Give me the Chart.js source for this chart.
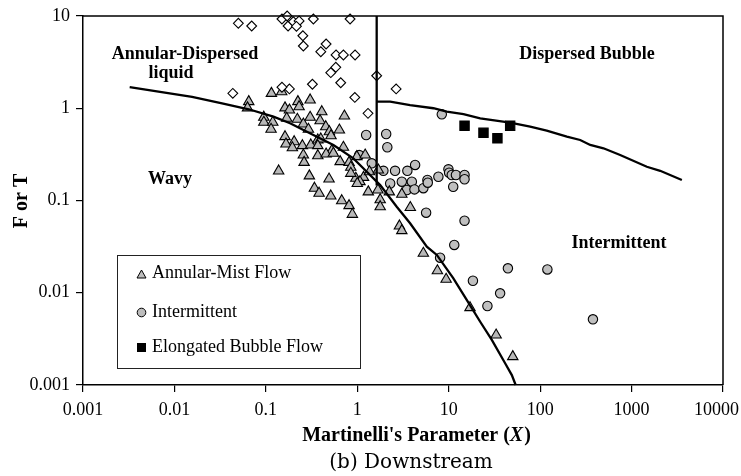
<!DOCTYPE html>
<html>
<head>
<meta charset="utf-8">
<script src="https://cdn.jsdelivr.net/npm/chart.js@4.4.1/dist/chart.umd.min.js"></script>
<style>
  body { margin: 0; background: #fff; }
  canvas { display: block; }
</style>
</head>
<body>
<canvas id="flowMap" width="741" height="476"></canvas>
<script>
const xTicks = [0.001, 0.01, 0.1, 1, 10, 100, 1000, 10000];
const yTicks = [0.001, 0.01, 0.1, 1, 10];

// annular-mist flow observations
const mistX = [0.065, 0.063, 0.095, 0.095, 0.119, 0.114, 0.115, 0.138, 0.149, 0.224,
  0.305, 0.231, 0.162, 0.181, 0.409, 0.723, 0.169, 0.221, 0.305, 0.392,
  0.257, 0.292, 0.452, 0.495, 0.637, 0.516, 0.162, 0.204, 0.166, 0.195,
  0.251, 0.310, 0.370, 0.399, 0.370, 0.705, 0.526, 0.257, 0.370, 0.456,
  0.548, 0.262, 0.649, 0.813, 0.989, 1.22, 0.849, 0.299, 0.491, 0.964,
  1.17, 1.07, 1.36, 1.70, 1.32, 1.68, 2.24, 0.340, 0.382, 0.513,
  0.676, 0.813, 0.883, 1.78, 1.78, 3.07, 3.8, 2.89, 3.07, 5.28,
  7.52, 9.37, 17.1, 33.0, 50.2, 1.00, 0.849];
const mistY = [1.18, 1.01, 0.80, 0.705, 0.705, 0.592, 1.45, 0.209, 1.51, 1.18,
  1.23, 1.04, 1.01, 0.957, 0.918, 0.824, 0.778, 0.759, 0.798, 0.733,
  0.675, 0.592, 0.631, 0.557, 0.581, 0.504, 0.492, 0.434, 0.409, 0.373,
  0.393, 0.40, 0.453, 0.465, 0.393, 0.378, 0.347, 0.311, 0.306, 0.319,
  0.325, 0.259, 0.264, 0.259, 0.299, 0.311, 0.229, 0.185, 0.171, 0.174,
  0.178, 0.160, 0.205, 0.214, 0.124, 0.130, 0.124, 0.136, 0.120, 0.112,
  0.0995, 0.0879, 0.0708, 0.102, 0.0857, 0.117, 0.084, 0.053, 0.0471, 0.0268,
  0.0173, 0.0140, 0.00689, 0.00348, 0.00203, 0.153, 0.197];

// intermittent observations
const intermX = [8.40, 1.25, 2.07, 2.13, 1.05, 1.44, 1.93, 2.59, 3.53, 4.29,
  2.29, 3.07, 3.95, 3.48, 4.22, 5.28, 5.85, 5.90, 7.71, 9.93,
  10.1, 10.8, 12.0, 14.9, 14.9, 11.2, 5.66, 14.9, 11.5, 8.05,
  44.4, 120, 18.4, 36.5, 26.5, 378];
const intermY = [0.859, 0.513, 0.526, 0.378, 0.311, 0.253, 0.210, 0.210, 0.210, 0.243,
  0.153, 0.160, 0.160, 0.130, 0.132, 0.136, 0.167, 0.156, 0.181, 0.218,
  0.200, 0.189, 0.189, 0.189, 0.170, 0.141, 0.0738, 0.0604, 0.033, 0.024,
  0.0184, 0.0179, 0.0135, 0.00986, 0.00718, 0.00515];

// elongated bubble flow observations
const bubbleX = [14.9, 24.0, 34.1, 47.0];
const bubbleY = [0.647, 0.543, 0.472, 0.647];

// annular-dispersed observations (open diamonds, not in legend)
const dispX = [0.050, 0.070, 0.150, 0.171, 0.175, 0.200, 0.231, 0.216, 0.331, 0.834,
  0.254, 0.257, 0.456, 0.399, 0.586, 0.705, 0.946, 0.582, 0.513, 0.323,
  0.659, 0.181, 0.150, 0.0435, 0.940, 1.63, 2.66, 1.31];
const dispY = [8.34, 7.79, 9.28, 10.0, 7.79, 8.67, 8.83, 7.73, 9.28, 9.28,
  6.11, 4.73, 4.97, 4.10, 3.78, 3.78, 3.78, 2.78, 2.43, 1.82,
  1.89, 1.62, 1.69, 1.45, 1.31, 2.25, 1.62, 0.88];

// Taitel-Dukler transition boundaries
const annularBoundX = [0.00324, 0.0156, 0.0332, 0.065, 0.121, 0.184, 0.331, 0.548, 0.906, 1.27,
  1.78, 2.70, 3.78, 5.76, 7.41, 11.2, 15.8, 22.1, 29.6, 41.4, 49.0, 54];
const annularBoundY = [1.69, 1.33, 1.13, 0.975, 0.81, 0.687, 0.513, 0.40, 0.286, 0.205,
  0.147, 0.0857, 0.0566, 0.0316, 0.0257, 0.0144, 0.00834, 0.00485, 0.00308, 0.00172, 0.00128, 0.001];
const verticalX = [1.63, 1.63];
const verticalY = [10, 0.145];
const bubbleBoundX = [1.63, 2.29, 3.78, 6.8, 9.53, 14.5, 22.1, 47.0, 77.8, 118,
  196, 274, 353, 493, 750, 1469, 2055, 3548];
const bubbleBoundY = [1.18, 1.18, 1.08, 1.0, 0.918, 0.866, 0.778, 0.697, 0.631, 0.571,
  0.492, 0.453, 0.40, 0.368, 0.311, 0.232, 0.21, 0.167];

const legendNames = ["Annular-Mist Flow", "Intermittent", "Elongated Bubble Flow"];

const serif = "'Liberation Serif', 'Times New Roman', serif";

function points(xs, ys){
  return xs.map((x, i) => ({x: x, y: ys[i]}));
}

function markers(label, xs, ys, style, radius, fill){
  return {
    label: label,
    data: points(xs, ys),
    pointStyle: style,
    pointRadius: radius,
    backgroundColor: fill,
    borderColor: "#000",
    borderWidth: 1.1,
    clip: false,
    order: 2
  };
}

function boundary(xs, ys){
  return {
    data: points(xs, ys),
    showLine: true,
    pointRadius: 0,
    borderColor: "#000",
    borderWidth: 2.3,
    fill: false,
    clip: false,
    order: 1
  };
}

const decorations = {
  id: "decorations",
  afterDraw(chart){
    const ctx = chart.ctx;
    const a = chart.chartArea;
    ctx.save();

    // close the frame on top and right
    ctx.strokeStyle = "#000";
    ctx.lineWidth = 1.5;
    ctx.beginPath();
    ctx.moveTo(a.left, a.top);
    ctx.lineTo(a.right, a.top);
    ctx.lineTo(a.right, a.bottom);
    ctx.stroke();

    // x tick labels, the last one pulled in so it stays on the canvas
    const xs = chart.scales.x;
    ctx.fillStyle = "#000";
    ctx.textBaseline = "middle";
    ctx.textAlign = "center";
    ctx.font = "18px " + serif;
    for (const v of xTicks){
      const text = String(v);
      const w = ctx.measureText(text).width;
      const px = Math.min(xs.getPixelForValue(v), chart.width - 2 - w / 2);
      ctx.fillText(text, px, 410);
    }

    // region names
    ctx.font = "bold 18px " + serif;
    ctx.fillText("Annular-Dispersed", 185, 54);
    ctx.fillText("liquid", 171, 73);
    ctx.fillText("Wavy", 170, 179);
    ctx.fillText("Dispersed Bubble", 587, 54);
    ctx.fillText("Intermittent", 619, 243);

    // legend box
    ctx.fillStyle = "#fff";
    ctx.fillRect(117, 255, 243, 113);
    ctx.strokeStyle = "#222";
    ctx.lineWidth = 1;
    ctx.strokeRect(117.5, 255.5, 243, 113);

    ctx.fillStyle = "#bdbdbd";
    ctx.strokeStyle = "#000";
    ctx.beginPath();
    ctx.moveTo(141.5, 270);
    ctx.lineTo(146, 278);
    ctx.lineTo(137, 278);
    ctx.closePath();
    ctx.fill();
    ctx.stroke();

    ctx.beginPath();
    ctx.arc(141.5, 312.5, 4.3, 0, Math.PI * 2);
    ctx.fill();
    ctx.stroke();

    ctx.fillStyle = "#000";
    ctx.fillRect(137, 343, 9, 9);

    ctx.textAlign = "left";
    ctx.font = "18px " + serif;
    ctx.fillText(legendNames[0], 152, 273);
    ctx.fillText(legendNames[1], 152, 312);
    ctx.fillText(legendNames[2], 152, 347);

    // axis titles
    ctx.font = "bold 20px " + serif;
    const left = "Martinelli's Parameter (";
    const wLeft = ctx.measureText(left).width;
    ctx.font = "bold italic 20px " + serif;
    const wX = ctx.measureText("X").width;
    ctx.font = "bold 20px " + serif;
    const wRight = ctx.measureText(")").width;
    let tx = 416 - (wLeft + wX + wRight) / 2;
    ctx.fillText(left, tx, 436);
    tx += wLeft;
    ctx.font = "bold italic 20px " + serif;
    ctx.fillText("X", tx, 436);
    tx += wX + 1;
    ctx.font = "bold 20px " + serif;
    ctx.fillText(")", tx, 436);

    ctx.save();
    ctx.translate(22, 201);
    ctx.rotate(-Math.PI / 2);
    ctx.textAlign = "center";
    ctx.fillText("F or T", 0, 0);
    ctx.restore();

    ctx.textAlign = "center";
    ctx.font = "20px 'DejaVu Serif', serif";
    ctx.fillText("(b) Downstream", 411, 463);

    ctx.restore();
  }
};

new Chart("flowMap", {
  type: "scatter",
  data: {
    datasets: [
      boundary(annularBoundX, annularBoundY),
      boundary(verticalX, verticalY),
      boundary(bubbleBoundX, bubbleBoundY),
      markers("dispersed", dispX, dispY, "rectRot", 4.9, "#fff"),
      markers(legendNames[0], mistX, mistY, "triangle", 6, "#b8b8b8"),
      markers(legendNames[1], intermX, intermY, "circle", 4.7, "#bfbfbf"),
      markers(legendNames[2], bubbleX, bubbleY, "rect", 6.6, "#000")
    ]
  },
  options: {
    responsive: false,
    animation: false,
    events: [],
    layout: {padding: {top: 16, right: 18, left: 0, bottom: 0}},
    plugins: {legend: {display: false}, tooltip: {enabled: false}},
    scales: {
      x: {
        type: "logarithmic",
        min: 0.001,
        max: 10000,
        afterBuildTicks: (s) => { s.ticks = xTicks.map(v => ({value: v})); },
        afterFit: (s) => { s.height = 91; s.paddingLeft = 0; s.paddingRight = 0; },
        ticks: {display: false},
        grid: {drawOnChartArea: false, tickLength: 7, color: "#000", lineWidth: 1.2},
        border: {color: "#000", width: 1.5}
      },
      y: {
        type: "logarithmic",
        min: 0.001,
        max: 10,
        afterBuildTicks: (s) => { s.ticks = yTicks.map(v => ({value: v})); },
        afterFit: (s) => { s.width = 83; s.paddingTop = 0; s.paddingBottom = 0; },
        ticks: {
          callback: (v) => String(v),
          autoSkip: false,
          padding: 6,
          color: "#000",
          font: {family: serif, size: 18}
        },
        grid: {drawOnChartArea: false, tickLength: 7, color: "#000", lineWidth: 1.2},
        border: {color: "#000", width: 1.5}
      }
    }
  },
  plugins: [decorations]
});
</script>
</body>
</html>
